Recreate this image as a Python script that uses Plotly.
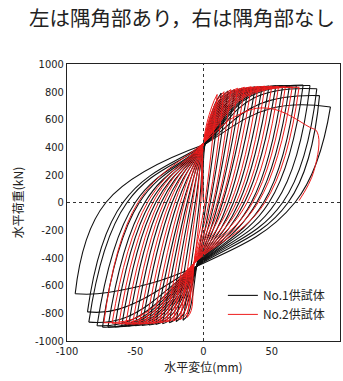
import plotly.graph_objects as go

# ---------------- data ----------------
# No.1 specimen (black): per cycle
n1_pos_disp  = [13, 18, 23, 28, 33, 38, 43, 48, 53, 58, 63, 68, 73, 78, 83, 85, 93]
n1_pos_load  = [790, 805, 815, 825, 830, 835, 838, 840, 842, 845, 845, 845, 848, 845, 821, 772, 690]
n1_pos_knee_d = [8, 11, 13, 15, 17, 19, 21, 23, 25, 27, 29, 31, 33, 35, 38, 42, 50]
n1_pos_knee_l = [700, 730, 740, 750, 755, 760, 762, 765, 765, 768, 770, 770, 770, 770, 760, 715, 680]
n1_pos_res   = [2, 5, 8, 11, 14, 18, 22, 26, 30, 35, 39, 44, 48, 53, 58, 62, 67]
n1_neg_disp  = [-15, -20, -25, -30, -35, -40, -45, -50, -55, -60, -65, -70, -74, -78, -84, -85, -94]
n1_neg_load  = [-850, -860, -868, -875, -880, -885, -888, -890, -892, -895, -898, -900, -900, -890, -864, -790, -659]
n1_neg_knee_d = [-11, -15, -18, -22, -25, -28, -31, -34, -37, -40, -43, -46, -49, -52, -57, -62, -70]
n1_neg_knee_l = [-800, -810, -815, -825, -830, -835, -838, -840, -842, -845, -848, -850, -852, -845, -830, -770, -650]
n1_neg_res   = [-3, -6, -9, -12, -15, -19, -23, -27, -31, -35, -39, -43, -47, -50, -56, -59, -71.5]
n1_pinch_top = (1, 420)
n1_pinch_bot = (-5, -460)

# No.2 specimen (red)
n2_pos_disp  = [10, 15, 20, 25, 30, 35, 40, 45, 50, 55, 60, 65, 70]
n2_pos_load  = [780, 800, 815, 825, 832, 836, 838, 840, 840, 838, 836, 834, 832]
n2_pos_knee_d = [6, 9, 11, 13, 15, 17, 19, 21, 23, 25, 27, 29, 31]
n2_pos_knee_l = [690, 720, 735, 745, 752, 758, 760, 762, 764, 765, 765, 765, 765]
n2_pos_res   = [1, 4, 7, 10, 13, 16, 20, 24, 28, 32, 36, 40, 45]
n2_neg_disp  = [-12, -17, -22, -27, -32, -37, -42, -47, -52, -57, -62, -67, -73]
n2_neg_load  = [-830, -845, -855, -862, -868, -872, -875, -877, -878, -878, -876, -872, -868]
n2_neg_knee_d = [-9, -12, -15, -18, -21, -24, -27, -30, -33, -36, -39, -42, -46]
n2_neg_knee_l = [-780, -795, -805, -812, -818, -822, -825, -827, -828, -828, -826, -822, -818]
n2_neg_res   = [-2, -5, -8, -11, -14, -17, -21, -25, -29, -33, -37, -41, -48]
n2_pinch_top = (0, 430)
n2_pinch_bot = (-7, -440)
# last (degrading) half cycle of No.2
n2_tail_disp = [25, 48, 77.5, 83.3, 81, 70]
n2_tail_load = [630, 680, 545, 508, 231, 14]

x_ticks = [-100, -50, 0, 50, 100]
x_ticktext = ["-100", "-50", "0", "50", "100"]
y_ticks = [-1000, -800, -600, -400, -200, 0, 200, 400, 600, 800, 1000]
y_ticktext = ["-1000", "-800", "-600", "-400", "-200", "0", "200", "400", "600", "800", "1000"]


def build(pd, pl, pkd, pkl, pr, nd, nl, nkd, nkl, nr, ptop, pbot, tail=None):
    xs, ys = [], []

    def add(seg):
        for (a, b) in seg:
            xs.append(a)
            ys.append(b)
        xs.append(None)
        ys.append(None)

    n = len(pd)
    for i in range(n):
        if i == 0:
            seg = [(0, 0)]
        else:
            seg = [(nd[i - 1], nl[i - 1]), (nr[i - 1], 0)]
        seg += [ptop, (pkd[i], pkl[i]), (pd[i], pl[i])]
        add(seg)
        add([(pd[i], pl[i]), (pr[i], 0), pbot, (nkd[i], nkl[i]), (nd[i], nl[i])])
    last = [(nd[-1], nl[-1]), (nr[-1], 0), ptop]
    if tail is not None:
        last += list(zip(tail[0], tail[1]))
    add(last)
    return xs, ys


x1, y1 = build(n1_pos_disp, n1_pos_load, n1_pos_knee_d, n1_pos_knee_l, n1_pos_res,
               n1_neg_disp, n1_neg_load, n1_neg_knee_d, n1_neg_knee_l, n1_neg_res,
               n1_pinch_top, n1_pinch_bot)
x2, y2 = build(n2_pos_disp, n2_pos_load, n2_pos_knee_d, n2_pos_knee_l, n2_pos_res,
               n2_neg_disp, n2_neg_load, n2_neg_knee_d, n2_neg_knee_l, n2_neg_res,
               n2_pinch_top, n2_pinch_bot, tail=(n2_tail_disp, n2_tail_load))

fig = go.Figure()
fig.add_trace(go.Scatter(x=x1, y=y1, mode="lines", name="No.1供試体",
                         line=dict(color="#111111", width=1.1, shape="spline", smoothing=1.2),
                         connectgaps=False))
fig.add_trace(go.Scatter(x=x2, y=y2, mode="lines", name="No.2供試体",
                         line=dict(color="#ee1c1c", width=1, shape="spline", smoothing=1.2),
                         connectgaps=False))

tick_font = dict(family="Liberation Sans Narrow, DejaVu Sans Condensed, Arial", size=11, color="#222")
cjk = "Noto Sans CJK JP"

fig.update_layout(
    width=343, height=381,
    margin=dict(l=67, r=3, t=64, b=40),
    paper_bgcolor="white", plot_bgcolor="white",
    showlegend=True,
    legend=dict(x=0.571, y=0.217, xanchor="left", yanchor="top",
                bgcolor="rgba(0,0,0,0)", font=dict(family=cjk, size=12, color="#222"),
                tracegroupgap=0, itemwidth=30),
    annotations=[dict(text="左は隅角部あり，右は隅角部なし", xref="paper", yref="paper",
                      x=0.42, y=1.168, xanchor="center", yanchor="middle", showarrow=False,
                      font=dict(family=cjk, size=20.5, color="#222"))],
    shapes=[
        dict(type="line", xref="x", yref="paper", x0=0, x1=0, y0=0, y1=1,
             line=dict(color="#333", width=1, dash="dot")),
        dict(type="line", xref="paper", yref="y", x0=0, x1=1, y0=0, y1=0,
             line=dict(color="#333", width=1, dash="dot")),
    ],
)
fig.update_xaxes(range=[-100, 100], tickvals=x_ticks, ticktext=x_ticktext, automargin=False,
                 showgrid=False, zeroline=False, showline=True, linecolor="#222", linewidth=1,
                 mirror=True, ticks="", tickfont=tick_font,
                 title=dict(text="水平変位(mm)", font=dict(family=cjk, size=12, color="#222"), standoff=6))
fig.update_yaxes(range=[-1000, 1000], tickvals=y_ticks, ticktext=y_ticktext, automargin=False,
                 showgrid=False, zeroline=False, showline=True, linecolor="#222", linewidth=1,
                 mirror=True, ticks="", tickfont=tick_font,
                 title=dict(text="水平荷重(kN)", font=dict(family=cjk, size=12, color="#222"), standoff=8))

fig.write_html("out.html", config={"displayModeBar": False},
               post_script="document.body.style.margin='0';")
